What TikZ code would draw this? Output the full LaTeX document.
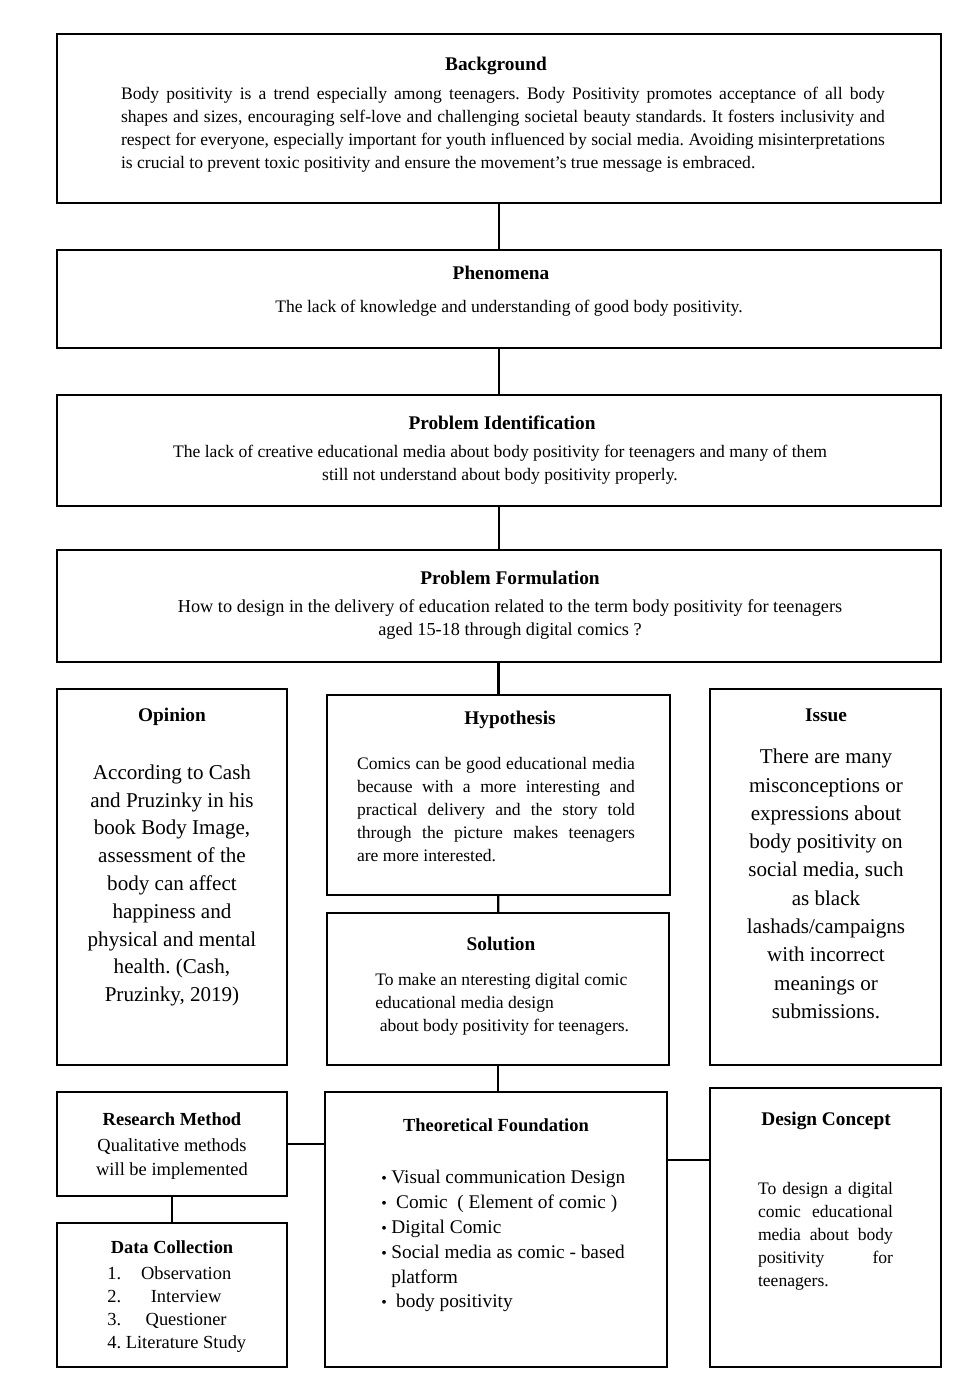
\documentclass[tikz,border=0pt]{standalone}
\usepackage{fontspec}
\setmainfont{Liberation Serif}
\usetikzlibrary{calc,fit}
\frenchspacing

\newcommand{\dotitem}{\makebox[0.2cm][l]{\small\textbullet}}

\begin{document}
\begin{tikzpicture}[x=0.02cm, y=-0.02cm,
  box/.style={draw, line width=1pt, inner sep=0pt},
  title/.style={font=\fontsize{11}{13}\selectfont\bfseries, inner sep=0pt, yshift=-1.4pt},
  subtitle/.style={font=\fontsize{10.5}{13}\selectfont\bfseries, inner sep=0pt, yshift=-1.4pt},
  body/.style={font=\fontsize{10}{13.1}\selectfont, inner sep=0pt, yshift=-1.4pt},
  big/.style={font=\fontsize{12}{15.8}\selectfont, inner sep=0pt, align=center, yshift=-1.4pt},
  link/.style={line width=1.2pt}]
  \useasboundingbox (0,0) rectangle (973,1388);

  % boxes
  \node[box, fit={(57,34) (941,203)}] (bg) {};
  \node[box, fit={(57,250) (941,348)}] (phen) {};
  \node[box, fit={(57,395) (941,506)}] (ident) {};
  \node[box, fit={(57,550) (941,662)}] (form) {};
  \node[box, fit={(57,689) (287,1065)}] (opin) {};
  \node[box, fit={(327,695) (670,895)}] (hyp) {};
  \node[box, fit={(327,913) (669,1065)}] (sol) {};
  \node[box, fit={(710,689) (941,1065)}] (issue) {};
  \node[box, fit={(57,1092) (287,1196)}] (rm) {};
  \node[box, fit={(57,1223) (287,1367)}] (dc) {};
  \node[box, fit={(325,1092) (667,1367)}] (theo) {};
  \node[box, fit={(710,1088) (941,1367)}] (dcon) {};

  % texts
  \node[title] (bg-t) at (496,63) {Background};
  \node[body, text width=15.28cm, align=justify] (bg-b) at (503,127.5)
    {Body positivity is a trend especially among teenagers. Body Positivity promotes acceptance of all body\linebreak
     shapes and sizes, encouraging self-love and challenging societal beauty standards. It fosters inclusivity and\linebreak
     respect for everyone, especially important for youth influenced by social media. Avoiding misinterpretations\linebreak
     is crucial to prevent toxic positivity and ensure the movement's true message is embraced.};

  \node[title] (phen-t) at (501,270) {Phenomena};
  \node[body] (phen-b) at (509,306) {The lack of knowledge and understanding of good body positivity.};

  \node[title] (ident-t) at (502,420) {Problem Identification};
  \node[body, align=center] (ident-b) at (500,462.5)
    {The lack of creative educational media about body positivity for teenagers and many of them\\
     still not understand about body positivity properly.};

  \node[title] (form-t) at (510,575) {Problem Formulation};
  \node[body, font=\fontsize{10.4}{13.1}\selectfont, align=center] (form-b) at (510,617)
    {How to design in the delivery of education related to the term body positivity for teenagers\\
     aged 15-18 through digital comics ?};

  \node[title] (opin-t) at (172,714) {Opinion};
  \node[big] (opin-b) at (172,883)
    {According to Cash\\ and Pruzinky in his\\ book Body Image,\\ assessment of the\\ body can affect\\
     happiness and\\ physical and mental\\ health. (Cash,\\ Pruzinky, 2019)};

  \node[title] (hyp-t) at (510,717) {Hypothesis};
  \node[body, text width=5.56cm, align=justify] (hyp-b) at (496,807)
    {Comics can be good educational media\linebreak because with a more interesting and\linebreak
     practical delivery and the story told\linebreak through the picture makes teenagers\linebreak
     are more interested.};

  \node[title] (sol-t) at (501,941) {Solution};
  \node[body, align=left, anchor=west] (sol-b) at (375,1002)
    {To make an nteresting digital comic\\ educational media design\\ \ about body positivity for teenagers.};

  \node[title] (issue-t) at (826,713) {Issue};
  \node[big, font=\fontsize{12}{16.1}\selectfont] (issue-b) at (826,881.5)
    {There are many\\ misconceptions or\\ expressions about\\ body positivity on\\ social media, such\\
     as black\\ lashads/campaigns\\ with incorrect\\ meanings or\\ submissions.};

  \node[subtitle] (rm-t) at (172,1117) {Research Method};
  \node[body, font=\fontsize{10.5}{13.6}\selectfont, align=center] (rm-b) at (172,1157)
    {Qualitative methods\\ will be implemented};

  \node[subtitle] (dc-t) at (172,1245) {Data Collection};
  \node[body, font=\fontsize{10.5}{13.1}\selectfont, align=left, anchor=west] (dc-b) at (107,1307.5)
    {1.\makebox[2.6cm]{Observation}\\ 2.\makebox[2.6cm]{Interview}\\
     3.\makebox[2.6cm]{Questioner}\\ 4.\ Literature Study};

  \node[subtitle] (theo-t) at (496,1123) {Theoretical Foundation};
  \node[body, font=\fontsize{11}{14.2}\selectfont, align=left, anchor=west] (theo-b) at (381,1238.5)
    {\dotitem Visual communication Design\\
     \dotitem\ Comic\ \ ( Element of comic )\\
     \dotitem Digital Comic\\
     \dotitem Social media as comic - based\\
     \hspace*{0.2cm}platform\\
     \dotitem\ body positivity};

  \node[title] (dcon-t) at (826,1118) {Design Concept};
  \node[body, text width=2.7cm, align=justify] (dcon-b) at (825.5,1234)
    {To design a digital\linebreak comic educational\linebreak media about body\linebreak
     positivity for\linebreak teenagers.};

  % connectors
  \draw[link] (bg) -- (phen);
  \draw[link] (phen) -- (ident);
  \draw[link] (ident) -- (form);
  \draw[link] (hyp.north |- form.south) -- (hyp.north);
  \draw[link] (hyp) -- (sol);
  \draw[link] (sol.south) -- (sol.south |- theo.north);
  \draw[link] (rm) -- (dc);
  \draw[link] (rm.east) -- (theo.west |- rm.east);
  \coordinate (theo-r) at ($(theo.north east)!0.25!(theo.south east)$);
  \draw[link] (theo-r) -- (dcon.west |- theo-r);
\end{tikzpicture}
\end{document}
